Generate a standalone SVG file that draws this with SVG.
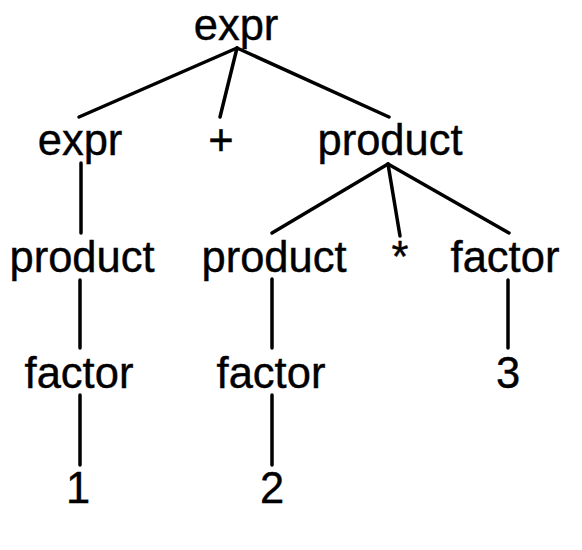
<svg xmlns="http://www.w3.org/2000/svg" width="582" height="550" viewBox="0 0 582 550">
<style>
text{font-family:"Liberation Sans",Arial,sans-serif;font-size:43.5px;fill:#000;text-anchor:middle;stroke:#000;stroke-width:0.4}
.e line{stroke:#000;stroke-width:3.5;stroke-linecap:round}
</style>
<rect width="582" height="550" fill="#fff"/>
<g class="e" id="connectors">
<line x1="237" y1="48" x2="79" y2="117"/>
<line x1="237" y1="48" x2="220" y2="117"/>
<line x1="237" y1="48" x2="389" y2="117"/>
<line x1="81" y1="163" x2="81" y2="233"/>
<line x1="388" y1="164" x2="272" y2="233"/>
<line x1="388" y1="164" x2="400" y2="236"/>
<line x1="388" y1="164" x2="509" y2="233"/>
<line x1="80" y1="280" x2="80" y2="348"/>
<line x1="272" y1="279" x2="272" y2="348"/>
<line x1="508" y1="280" x2="508" y2="348"/>
<line x1="80" y1="395" x2="80" y2="465"/>
<line x1="272" y1="395" x2="272" y2="465"/>
</g>
<g id="n-expr-root"><text x="236" y="40">expr</text></g>
<g id="n-expr"><text x="80" y="155">expr</text></g>
<g id="n-plus"><text x="221" y="155">+</text></g>
<g id="n-product-r"><text x="390" y="155">product</text></g>
<g id="n-product-l"><text x="82" y="272">product</text></g>
<g id="n-product-m"><text x="274" y="272">product</text></g>
<g id="n-star"><text x="400" y="272">*</text></g>
<g id="n-factor-r"><text x="505" y="272">factor</text></g>
<g id="n-factor-l"><text x="79" y="388">factor</text></g>
<g id="n-factor-m"><text x="271" y="388">factor</text></g>
<g id="n-3"><text x="508" y="388">3</text></g>
<g id="n-1"><text x="78" y="503">1</text></g>
<g id="n-2"><text x="272" y="503">2</text></g>
</svg>
